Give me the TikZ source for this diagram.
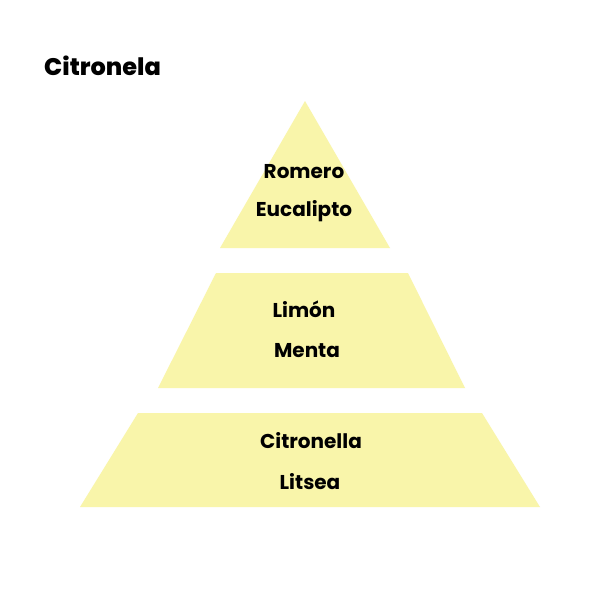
\documentclass[tikz,border=0pt]{standalone}
\usepackage{fontspec}
\setmainfont{Poppins}
\newfontfamily\titlefont{Poppins}[UprightFont=*-ExtraBold]
\newfontfamily\labfont{Poppins}[UprightFont=*-Bold]
\definecolor{layer}{HTML}{F9F5AA}
\begin{document}
\begin{tikzpicture}[x=1pt,y=-1pt,
  layerfill/.style={fill=layer,draw=none},
  lab/.style={font=\labfont\fontsize{20}{20}\selectfont,text=black,inner sep=0pt,anchor=center}]
\useasboundingbox (0,0) rectangle (600,600);
\fill[white] (0,0) rectangle (600,600);
% layers
\path[layerfill] (305,101) -- (390,248) -- (220,248) -- cycle;
\path[layerfill] (216,273) -- (408,273) -- (465,388) -- (158,388) -- cycle;
\path[layerfill] (138,413) -- (482,413) -- (540,507) -- (80,507) -- cycle;
% title
\node[font=\titlefont\fontsize{24}{24}\selectfont,anchor=west,inner sep=0pt] (title) at (44,66) {Citronela};
% labels
\node[lab] (romero) at (304,172) {Romero};
\node[lab] (euca) at (304,211) {Eucalipto};
\node[lab] (limon) at (304,309) {Limón};
\node[lab] (menta) at (307,351) {Menta};
\node[lab] (citro) at (311,441) {Citronella};
\node[lab] (litsea) at (310,482) {Litsea};
\end{tikzpicture}
\end{document}
